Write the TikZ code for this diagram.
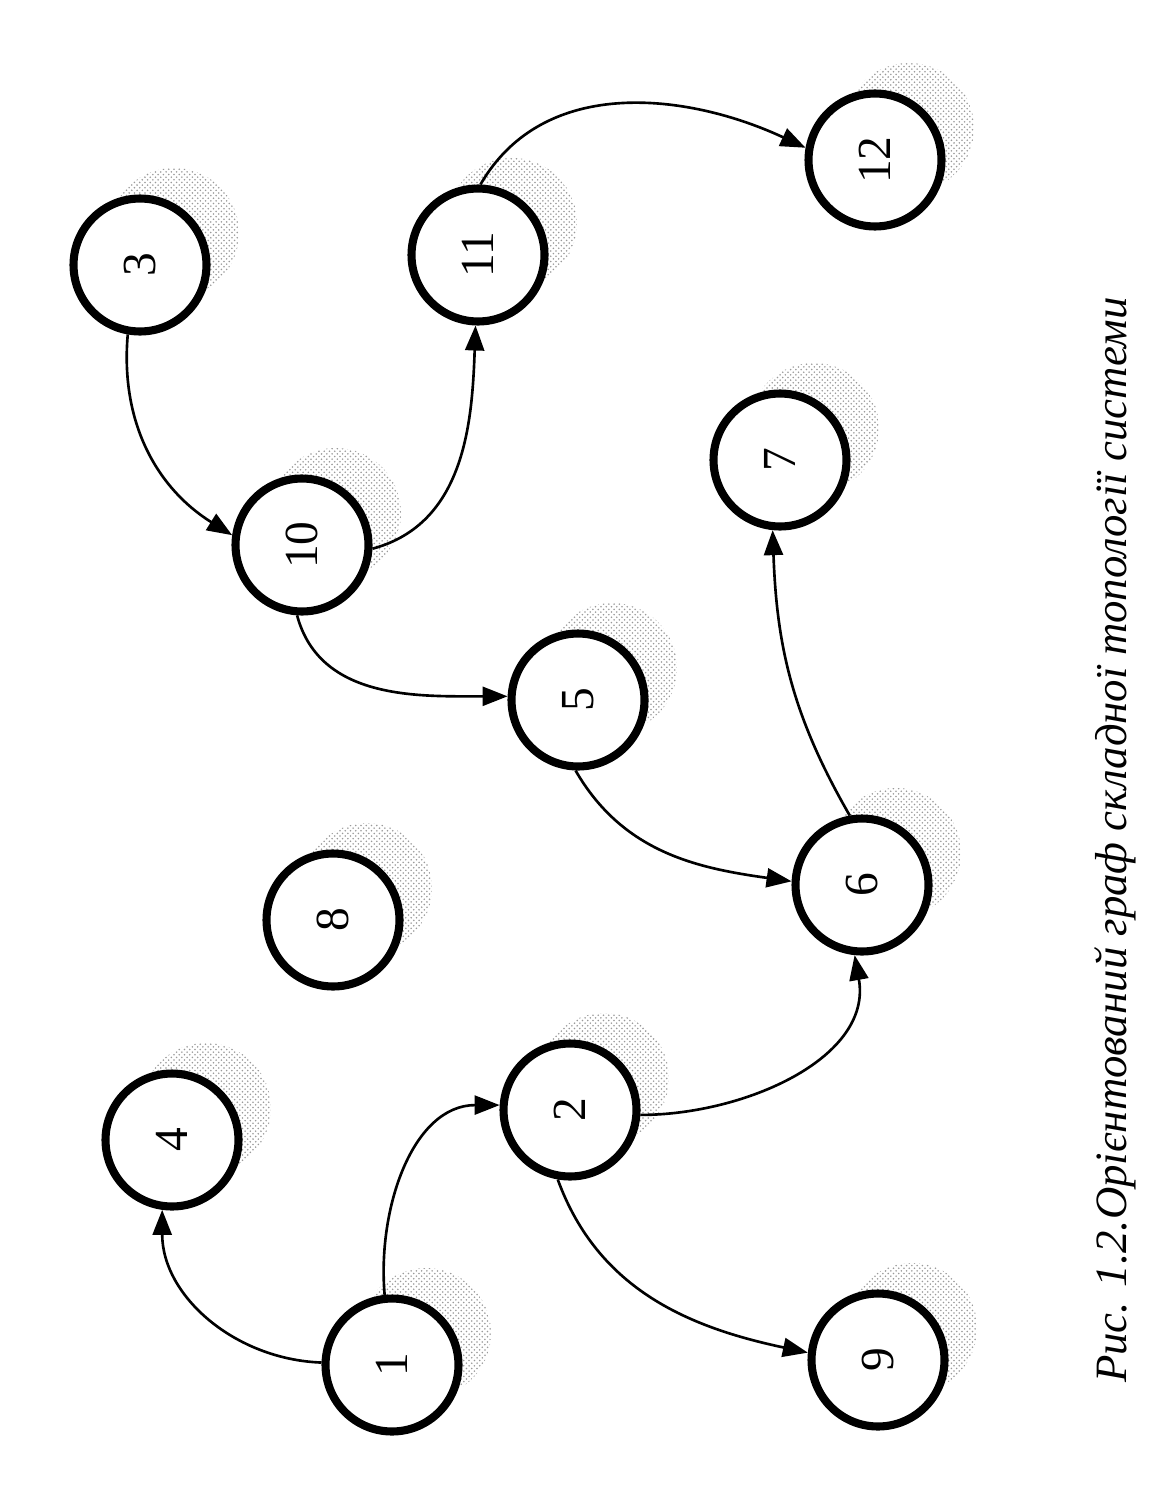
\documentclass[tikz,border=0pt]{standalone}
\usepackage{fontspec}
\setmainfont{Liberation Serif}
\usepackage{tikz}
\usetikzlibrary{arrows.meta,backgrounds,patterns}
\definecolor{GraphInk}{HTML}{000000}
\definecolor{GraphShade}{HTML}{9A9A9A}

\newcommand{\vnum}[1]{\rotatebox{90}{\fontsize{27}{30}\selectfont #1}}

\begin{document}
\begin{tikzpicture}[x=0.02cm, y=-0.02cm,
  vertex/.style={circle, draw=GraphInk, line width=4.6pt, fill=white,
    minimum size=2.66cm, inner sep=0pt},
  edge/.style={draw=GraphInk, line width=1.5pt,
    -{Triangle[length=0.5cm,width=0.38cm]}},
  shade/.style={pattern=crosshatch dots, pattern color=GraphShade}]
  \useasboundingbox (0,0) rectangle (1165,1487);

  %% Vertices
  \node[vertex] (n1)  at (392,1365) {\vnum{1}};
  \node[vertex] (n2)  at (570,1110) {\vnum{2}};
  \node[vertex] (n3)  at (140,265)  {\vnum{3}};
  \node[vertex] (n4)  at (172,1140) {\vnum{4}};
  \node[vertex] (n5)  at (578,700)  {\vnum{5}};
  \node[vertex] (n6)  at (862,885)  {\vnum{6}};
  \node[vertex] (n7)  at (780,460)  {\vnum{7}};
  \node[vertex] (n8)  at (333,920)  {\vnum{8}};
  \node[vertex] (n9)  at (878,1360) {\vnum{9}};
  \node[vertex] (n10) at (302,545)  {\vnum{10}};
  \node[vertex] (n11) at (478,255)  {\vnum{11}};
  \node[vertex] (n12) at (875,160)  {\vnum{12}};

  %% Shadows
  \begin{scope}[on background layer]
    \foreach \n in {1,...,12} {%
      \fill[shade] ([shift={(34,-32)}]n\n.center) circle (1.3cm);
    }
  \end{scope}

  %% Arcs
  \draw[edge] (n1.178)  to[out=178, in=-90] (n4.-98);
  \draw[edge] (n1.96)   to[out=95,  in=180] (n2.176);
  \draw[edge] (n2.-4)   to[out=0,   in=-80] (n6.-96);
  \draw[edge] (n2.-100) to[out=-70, in=168] (n9.174);
  \draw[edge] (n5.-92)  to[out=-60, in=172] (n6.177);
  \draw[edge] (n6.100)  to[out=120, in=-88] (n7.-96);
  \draw[edge] (n10.-94) to[out=-75, in=180] (n5.177);
  \draw[edge] (n10.-3)  to[out=15,  in=-92] (n11.-92);
  \draw[edge] (n3.-100) to[out=-95, in=148] (n10.172);
  \draw[edge] (n11.88)  to[out=60,  in=155] (n12.170);

  %% Caption
  \node[rotate=90, font=\itshape\fontsize{25.5}{30}\selectfont] (cap) at (1115,840)
    {Рис. 1.2.Орієнтований граф складної топології системи};
\end{tikzpicture}
\end{document}
